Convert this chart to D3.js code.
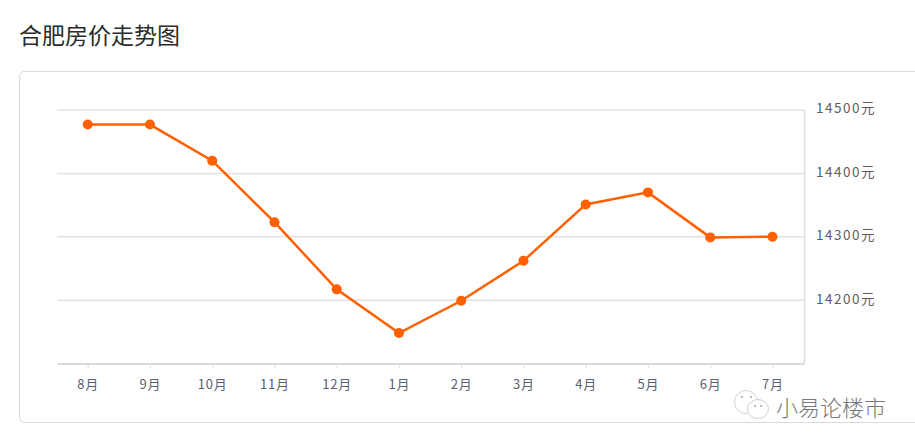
<!DOCTYPE html>
<html><head><meta charset="utf-8">
<script src="https://cdnjs.cloudflare.com/ajax/libs/d3/7.8.5/d3.min.js"></script>
<style>html,body{margin:0;padding:0;background:#fff;overflow:hidden}svg{display:block}
text{font-family:"Noto Sans CJK SC","Open Sans",sans-serif}</style></head><body>
<svg id="c" width="915" height="447"></svg>
<script>
const months=["8月","9月","10月","11月","12月","1月","2月","3月","4月","5月","6月","7月"];
const prices=[14477,14477,14420,14323,14217,14148,14199,14262,14351,14370,14299,14300];
const yTicks=[14200,14300,14400,14500];
const title="合肥房价走势图";
const watermark="小易论楼市";

const svg=d3.select("#c");
svg.append("text").attr("x",19).attr("y",44).attr("font-size",23).attr("fill","#2b2b2b").text(title);
svg.append("rect").attr("x",19.5).attr("y",71.5).attr("width",930).attr("height",351).attr("rx",5)
  .attr("fill","#fff").attr("stroke","#d9d9d9");

const x=d3.scaleBand().domain(months).range([57,804]);
const y=d3.scaleLinear().domain([14100,14500]).range([363.5,110]);

const grid=svg.append("g");
grid.selectAll("line").data(yTicks).join("line")
  .attr("x1",x.range()[0]).attr("x2",x.range()[1]).attr("y1",d=>y(d)).attr("y2",d=>y(d))
  .attr("stroke","#e2e2e2").attr("stroke-width",1.5);
grid.append("line").attr("x1",804.5).attr("x2",804.5).attr("y1",y(14500)-.7).attr("y2",y(14100))
  .attr("stroke","#dddddd").attr("stroke-width",1.5);

const ax=svg.append("g").attr("transform",`translate(0,${y(14100)})`)
  .call(d3.axisBottom(x).tickSizeInner(5).tickSizeOuter(0).tickPadding(10));
ax.select(".domain").attr("stroke","#d9d9d9").attr("stroke-width",2.2);
ax.selectAll(".tick line").attr("stroke","#dddddd");
ax.selectAll("text").attr("font-size",13).attr("letter-spacing",.7).attr("fill","#5a6070").attr("dy","0.8em")
  .attr("font-family",'"Noto Sans CJK SC",sans-serif');

const ay=svg.append("g").attr("transform","translate(816,0)")
  .call(d3.axisRight(y).tickValues(yTicks).tickSize(0).tickPadding(0).tickFormat(d=>d+"元"));
ay.select(".domain").remove();
ay.selectAll("text").attr("font-size",13.5).attr("letter-spacing",1.5).attr("fill","#5e5e5e").attr("dy","0.22em")
  .attr("font-family",'"Noto Sans CJK SC",sans-serif');

const line=d3.line().x((d,i)=>x(months[i])+x.bandwidth()/2-.4).y(d=>y(d));
svg.append("path").datum(prices).attr("d",line).attr("fill","none").attr("stroke","#ff6000").attr("stroke-width",2.5);
svg.selectAll("circle.pt").data(prices).join("circle").attr("class","pt")
  .attr("cx",(d,i)=>x(months[i])+x.bandwidth()/2-.4).attr("cy",d=>y(d)).attr("r",5).attr("fill","#ff6000");

const wm=svg.append("g");
wm.append("text").attr("x",776).attr("y",416).attr("font-size",22).attr("font-weight",300).attr("fill","#777").text(watermark);
const ic=wm.append("g").attr("fill","#fff").attr("stroke","#c4c4c4").attr("stroke-width",.8);
ic.append("ellipse").attr("cx",746).attr("cy",402).attr("rx",11.5).attr("ry",11.5);
ic.append("ellipse").attr("cx",758).attr("cy",409).attr("rx",10.5).attr("ry",9.5);
const dots=wm.append("g").attr("fill","#999");
[[742,397],[751,397],[755,406],[761,406]].forEach(p=>dots.append("circle").attr("cx",p[0]).attr("cy",p[1]).attr("r",.9));
</script></body></html>
